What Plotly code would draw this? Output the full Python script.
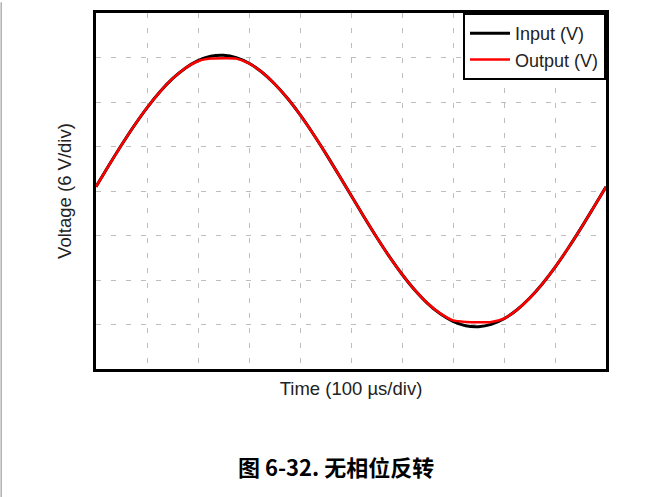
import plotly.graph_objects as go

# Time in microseconds (100 µs/div), voltages in V (6 V/div)
time_us = [0, 25, 50, 75, 100, 125, 150, 175, 200, 225, 250, 275, 300, 325, 350,
           375, 400, 425, 450, 475, 500, 525, 550, 575, 600, 625, 650, 675, 700,
           725, 750, 775, 800, 825, 850, 875, 900, 925, 950, 975, 1000]
input_v = [0.57, 3.43, 6.20, 8.82, 11.22, 13.34, 15.14, 16.56, 17.57, 18.16, 18.29,
           17.98, 17.22, 16.04, 14.46, 12.53, 10.29, 7.79, 5.11, 2.29, -0.57,
           -3.43, -6.20, -8.82, -11.22, -13.34, -15.14, -16.56, -17.57, -18.16,
           -18.29, -17.98, -17.22, -16.04, -14.46, -12.53, -10.29, -7.79, -5.11,
           -2.29, 0.57]
output_v = [0.57, 3.43, 6.20, 8.82, 11.22, 13.34, 15.14, 16.56, 17.50, 17.85, 17.90,
            17.85, 17.20, 16.04, 14.46, 12.53, 10.29, 7.79, 5.11, 2.29, -0.57,
            -3.43, -6.20, -8.82, -11.22, -13.34, -15.14, -16.50, -17.45, -17.65,
            -17.70, -17.65, -17.20, -16.04, -14.46, -12.53, -10.29, -7.79, -5.11,
            -2.29, 0.57]

x_title = "Time (100 µs/div)"
y_title = "Voltage (6 V/div)"
caption = "<b>图 6-32. 无相位反转</b>"

fig = go.Figure()
fig.add_trace(go.Scatter(x=time_us, y=input_v, mode="lines", name="Input (V)",
                         line=dict(color="black", width=3, shape="spline", smoothing=0.8)))
fig.add_trace(go.Scatter(x=time_us, y=output_v, mode="lines", name="Output (V)",
                         line=dict(color="#ff0000", width=2.5, shape="spline", smoothing=0.6)))

axis_common = dict(showticklabels=False, ticks="", zeroline=False, showgrid=True,
                   gridcolor="#bdbdbd", gridwidth=1, griddash="5px,10px",
                   showline=True, linecolor="black", linewidth=3, mirror=True)

fig.update_xaxes(range=[0, 1000], dtick=100, tick0=0,
                 title=dict(text=x_title, font=dict(size=18.5, color="#222"), standoff=12),
                 **axis_common)
fig.update_yaxes(range=[-24, 24], dtick=6, tick0=0,
                 title=dict(text=y_title, font=dict(size=18.5, color="#222"), standoff=17),
                 **axis_common)

fig.update_layout(
    width=663, height=497,
    margin=dict(l=96, r=57, t=10, b=128),
    paper_bgcolor="white", plot_bgcolor="white",
    font=dict(family="Liberation Sans, Arial, sans-serif", size=18, color="#222"),
    showlegend=True,
    legend=dict(x=1, y=1, xanchor="right", yanchor="top",
                bgcolor="white", bordercolor="black", borderwidth=2,
                font=dict(size=18, color="#222"), tracegroupgap=0,
                itemwidth=40),
)

fig.add_annotation(text=caption, xref="paper", yref="paper", x=0.47, y=-0.273,
                   showarrow=False, xanchor="center", yanchor="middle",
                   font=dict(family="Noto Sans CJK SC", size=22, color="black"))

# page border line on the far left
fig.add_shape(type="line", xref="paper", yref="paper", x0=-0.186, x1=-0.186,
              y0=-0.36, y1=1.03, line=dict(color="#888", width=1))

fig.write_html("out.html", config={"displayModeBar": False},
               post_script="document.body.style.margin='0px';")
